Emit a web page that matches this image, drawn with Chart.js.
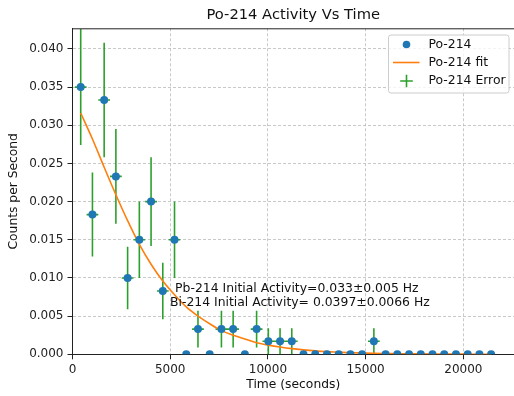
<!DOCTYPE html>
<html>
<head>
<meta charset="utf-8">
<script src="https://cdn.jsdelivr.net/npm/chart.js@4.4.0/dist/chart.umd.min.js"></script>
<style>
  html, body { margin: 0; padding: 0; background: #fff; }
  canvas { display: block; }
</style>
</head>
<body>
<canvas id="chart" width="514" height="396"></canvas>
<script>
// measured data (counts per second, 600 s bins)
var times = [420, 1020, 1620, 2220, 2820, 3420, 4020, 4620, 5220, 5820, 6420, 7020,
  7620, 8220, 8820, 9420, 10020, 10620, 11220, 11820, 12420, 13020, 13620, 14220,
  14820, 15420, 16020, 16620, 17220, 17820, 18420, 19020, 19620, 20220, 20820, 21420];
var rates = [0.0350, 0.0183, 0.0333, 0.0233, 0.0100, 0.0150, 0.0200, 0.0083, 0.0150, 0, 0.0033, 0,
  0.0033, 0.0033, 0, 0.0033, 0.0017, 0.0017, 0.0017, 0, 0, 0, 0, 0,
  0, 0.0017, 0, 0, 0, 0, 0, 0, 0, 0, 0, 0];
var rateErrors = [0.0076, 0.0055, 0.0075, 0.0062, 0.0041, 0.0050, 0.0058, 0.0037, 0.0050, 0, 0.0024, 0,
  0.0024, 0.0024, 0, 0.0024, 0.0017, 0.0017, 0.0017, 0, 0, 0, 0, 0,
  0, 0.0017, 0, 0, 0, 0, 0, 0, 0, 0, 0, 0];
var timeErrors = [300, 300, 300, 300, 300, 300, 300, 300, 300, 300, 300, 300,
  300, 300, 300, 300, 300, 300, 300, 300, 300, 300, 300, 300,
  300, 300, 300, 300, 300, 300, 300, 300, 300, 300, 300, 300];

// fitted curve
var fitRates = [0.0316, 0.0282, 0.0245, 0.0209, 0.0175, 0.0144, 0.0118, 0.0096, 0.0078, 0.0062, 0.0050, 0.0040,
  0.0031, 0.0025, 0.0020, 0.0015, 0.0012, 0.00095, 0.00074, 0.00058, 0.00045, 0.00035, 0.00028, 0.00021,
  0.00017, 0.00013, 0.00010, 0.00008, 0.00006, 0.00005, 0.00004, 0.00003, 0.00002, 0.00002, 0.00001, 0.00001];

var xTicks = [0, 5000, 10000, 15000, 20000];
var yTicks = [0, 0.005, 0.010, 0.015, 0.020, 0.025, 0.030, 0.035, 0.040];
var seriesNames = ['Po-214', 'Po-214 fit', 'Po-214 Error'];
var notes = ['Pb-214 Initial Activity=0.033\u00b10.005 Hz', 'Bi-214 Initial Activity= 0.0397\u00b10.0066 Hz'];

var blue = '#1f77b4', orange = '#ff7f0e', green = '#2ca02c';
var font = 'DejaVu Sans';

// error bars as broken line segments
var errData = [];
times.forEach(function (t, i) {
  if (!rateErrors[i]) return;
  errData.push({x: t, y: rates[i] - rateErrors[i]}, {x: t, y: rates[i] + rateErrors[i]}, {x: t, y: null});
  errData.push({x: t - timeErrors[i], y: rates[i]}, {x: t + timeErrors[i], y: rates[i]}, {x: t, y: null});
});

var extras = {
  id: 'extras',
  afterDraw: function (chart) {
    var ctx = chart.ctx, a = chart.chartArea, xs = chart.scales.x, ys = chart.scales.y;
    ctx.save();
    // top spine
    ctx.strokeStyle = '#222';
    ctx.lineWidth = 1;
    ctx.beginPath();
    ctx.moveTo(a.left, a.top + 0.5);
    ctx.lineTo(a.right, a.top + 0.5);
    ctx.stroke();

    // title
    ctx.fillStyle = '#111';
    ctx.font = '14.7px "' + font + '"';
    ctx.textAlign = 'center';
    ctx.textBaseline = 'middle';
    ctx.fillText('Po-214 Activity Vs Time', (a.left + a.right) / 2, 15);

    // notes
    ctx.font = '12.4px "' + font + '"';
    ctx.textAlign = 'left';
    ctx.fillText(notes[0], xs.getPixelForValue(5250), ys.getPixelForValue(0.0086));
    ctx.fillText(notes[1], xs.getPixelForValue(4990), ys.getPixelForValue(0.0067));

    // legend
    var bx = 388.5, by = 35, bw = 120.5, bh = 58;
    ctx.fillStyle = 'rgba(255,255,255,0.8)';
    ctx.strokeStyle = '#cccccc';
    ctx.beginPath();
    ctx.roundRect(bx, by, bw, bh, 2.5);
    ctx.fill();
    ctx.stroke();
    var rowY = [44.5, 62.5, 81];
    var hx = 406.5;
    ctx.fillStyle = blue;
    ctx.beginPath();
    ctx.arc(hx, rowY[0], 3.8, 0, Math.PI * 2);
    ctx.fill();
    ctx.strokeStyle = orange;
    ctx.lineWidth = 1.6;
    ctx.beginPath();
    ctx.moveTo(393, rowY[1]);
    ctx.lineTo(419.5, rowY[1]);
    ctx.stroke();
    ctx.strokeStyle = green;
    ctx.beginPath();
    ctx.moveTo(hx - 6.3, rowY[2]);
    ctx.lineTo(hx + 6.3, rowY[2]);
    ctx.moveTo(hx, rowY[2] - 6.3);
    ctx.lineTo(hx, rowY[2] + 6.3);
    ctx.stroke();
    ctx.fillStyle = '#111';
    ctx.font = '12.4px "' + font + '"';
    seriesNames.forEach(function (n, i) { ctx.fillText(n, 428.5, rowY[i]); });
    ctx.restore();
  }
};

new Chart(document.getElementById('chart'), {
  type: 'scatter',
  data: {
    datasets: [
      {
        label: seriesNames[0],
        data: times.map(function (t, i) { return {x: t, y: rates[i]}; }),
        backgroundColor: blue,
        borderWidth: 0,
        pointRadius: 4,
        clip: 0
      },
      {
        label: seriesNames[1],
        type: 'line',
        data: times.map(function (t, i) { return {x: t, y: fitRates[i]}; }),
        borderColor: orange,
        borderWidth: 1.6,
        pointRadius: 0,
        cubicInterpolationMode: 'monotone',
        fill: false
      },
      {
        label: seriesNames[2],
        type: 'line',
        data: errData,
        borderColor: green,
        borderWidth: 1.6,
        pointRadius: 0,
        spanGaps: false,
        fill: false
      }
    ]
  },
  options: {
    responsive: false,
    animation: false,
    events: [],
    layout: {autoPadding: false, padding: {top: 28.3, right: 0, bottom: 0, left: 0}},
    plugins: {legend: {display: false}, tooltip: {enabled: false}},
    scales: {
      x: {
        type: 'linear',
        min: 0,
        max: 22590,
        afterBuildTicks: function (s) { s.ticks = xTicks.map(function (v) { return {value: v}; }); },
        afterFit: function (s) { s.height = 41.7; },
        ticks: {
          color: '#222',
          font: {family: font, size: 12},
          padding: 3,
          maxRotation: 0,
          callback: function (v) { return String(v); }
        },
        grid: {color: '#bbbbbb', lineWidth: 0.8, tickLength: 5, tickColor: '#222', tickWidth: 1, tickBorderDash: []},
        border: {display: true, color: '#222', width: 1, dash: [3, 2]},
        title: {display: true, text: 'Time (seconds)', color: '#111', font: {family: font, size: 12.3}, padding: {top: 0, bottom: 3.6}}
      },
      y: {
        type: 'linear',
        min: 0,
        max: 0.0427,
        afterBuildTicks: function (s) { s.ticks = yTicks.map(function (v) { return {value: v}; }); },
        afterFit: function (s) { s.width = 72.5; },
        ticks: {
          color: '#222',
          font: {family: font, size: 12},
          padding: 4,
          callback: function (v) { return Number(v).toFixed(3); }
        },
        grid: {color: '#bbbbbb', lineWidth: 0.8, tickLength: 5, tickColor: '#222', tickWidth: 1, tickBorderDash: []},
        border: {display: true, color: '#222', width: 1, dash: [3, 2]},
        title: {display: true, text: 'Counts per Second', color: '#111', font: {family: font, size: 12.3}, padding: {top: 6.9, bottom: 0}}
      }
    }
  },
  plugins: [extras]
});
</script>
</body>
</html>
